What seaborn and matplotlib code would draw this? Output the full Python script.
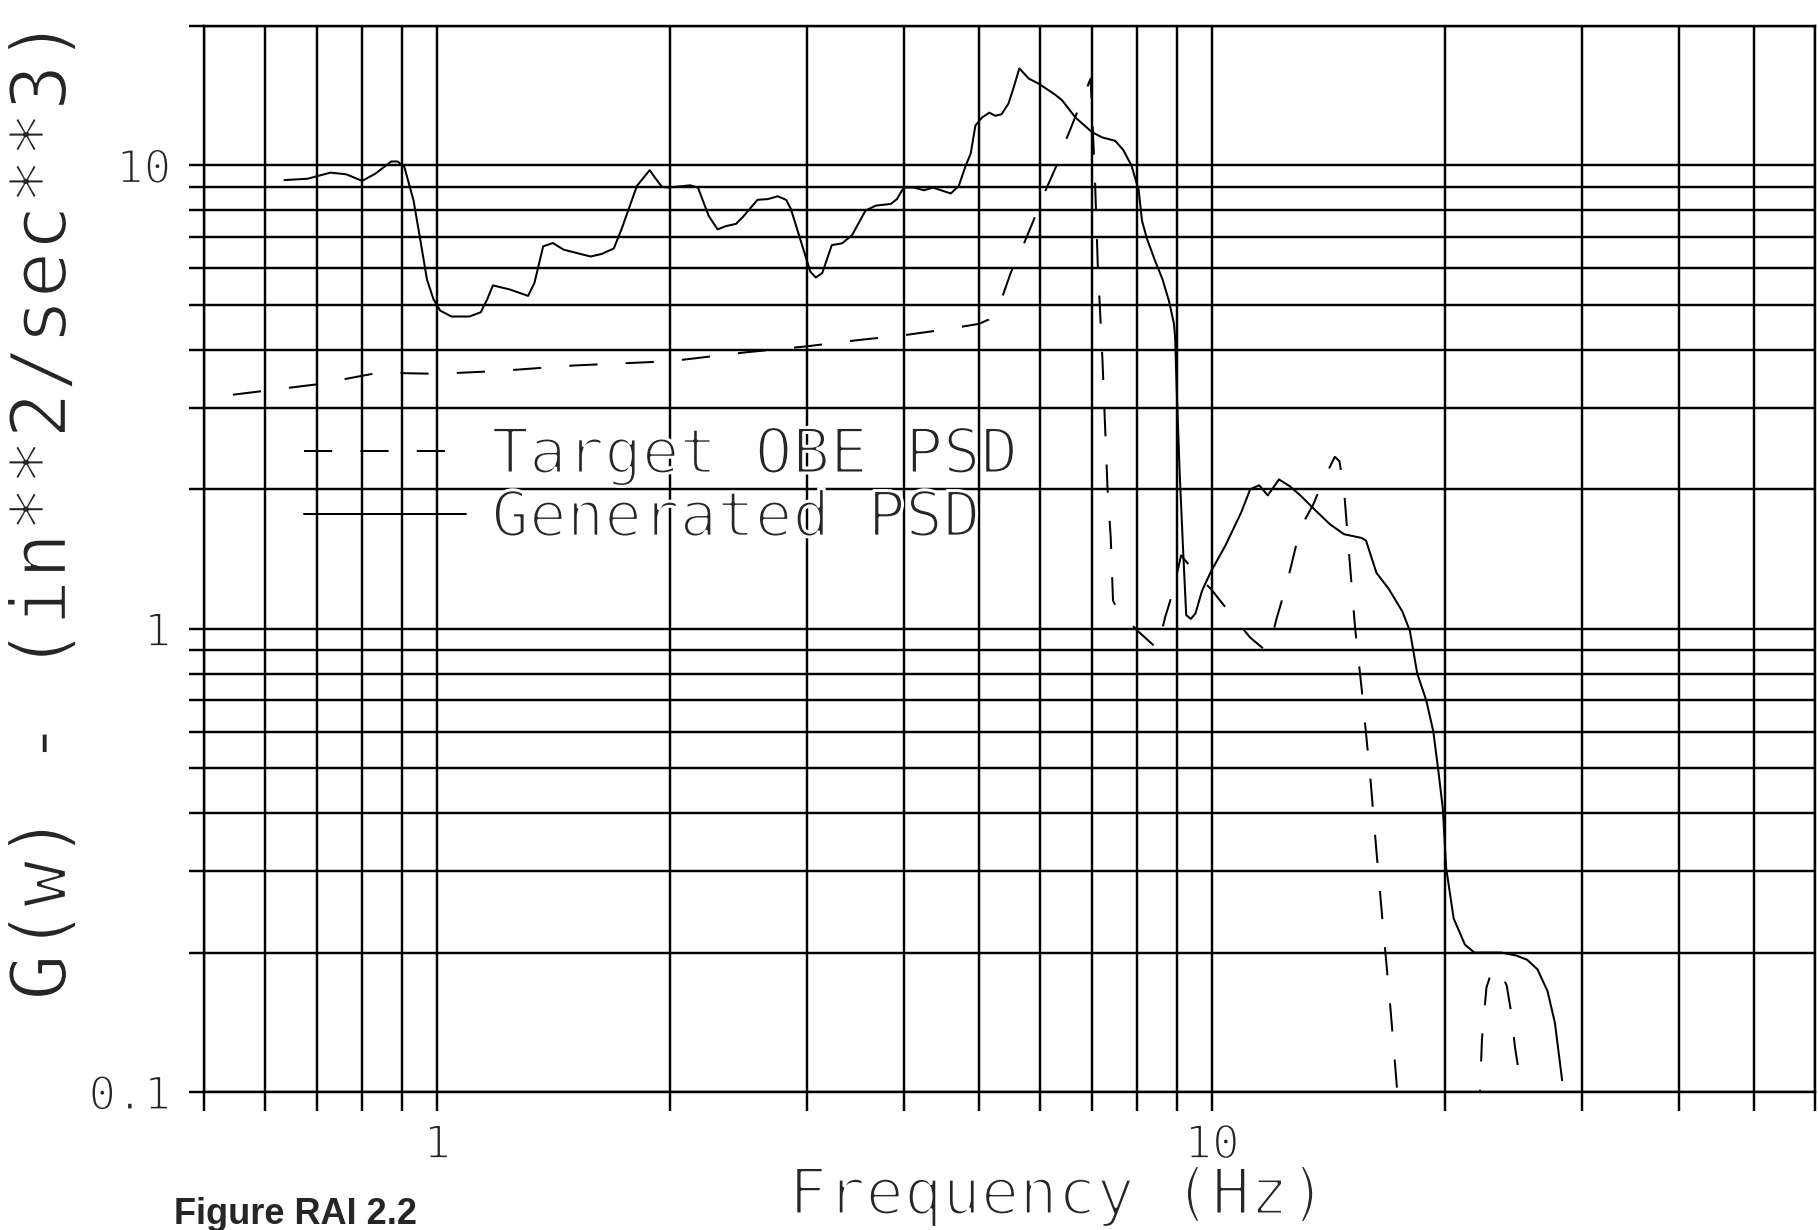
import numpy as np
import pandas as pd
import matplotlib
matplotlib.use("Agg")
import matplotlib.pyplot as plt
import matplotlib.patheffects as pe
from matplotlib.ticker import LogLocator, NullFormatter, FixedLocator, FixedFormatter
import seaborn as sns

# ---------------------------
# Data
# ---------------------------
# Generated PSD (solid line)
gen_freq = [0.635, 0.68, 0.728, 0.763, 0.80, 0.832, 0.872, 0.889, 0.907, 0.932,
            0.951, 0.97, 0.989, 1.009, 1.043, 1.10, 1.138, 1.16, 1.18, 1.24,
            1.31, 1.335, 1.37, 1.41, 1.456, 1.577, 1.63, 1.69, 1.73, 1.81,
            1.88, 1.91, 1.95, 1.99, 2.12, 2.17, 2.24, 2.30, 2.36, 2.43,
            2.48, 2.59, 2.67, 2.75, 2.82, 2.86, 2.93, 3.03, 3.08, 3.14,
            3.23, 3.33, 3.43, 3.57, 3.68, 3.85, 3.92, 4.0, 4.12, 4.25,
            4.36, 4.6, 4.71, 4.81, 4.88, 4.95, 5.05, 5.16, 5.25, 5.35,
            5.46, 5.55, 5.64, 5.80, 5.98, 6.28, 6.41, 6.66, 7.0, 7.21,
            7.5, 7.68, 7.87, 8.04, 8.12, 8.24, 8.45, 8.63, 8.8, 8.93,
            8.96, 9.0, 9.08, 9.17, 9.26, 9.39, 9.52, 9.71, 9.97, 10.4,
            10.9, 11.2, 11.5, 11.8, 12.2, 12.6, 13.0, 13.6, 14.2, 14.8,
            15.6, 15.8, 16.3, 16.9, 17.6, 18.0, 18.4, 18.9, 19.3, 19.6,
            19.85, 20.05, 20.5, 21.2, 21.8, 23.6, 24.7, 25.5, 26.3, 27.1,
            27.7, 28.3]
gen_psd = [9.3, 9.36, 9.65, 9.57, 9.26, 9.6, 10.2, 10.2, 9.92, 8.4,
           6.9, 5.67, 5.14, 4.86, 4.72, 4.72, 4.82, 5.14, 5.51, 5.4,
           5.23, 5.58, 6.69, 6.8, 6.58, 6.36, 6.44, 6.62, 7.3, 9.03,
           9.77, 9.41, 8.99, 8.96, 9.06, 8.96, 7.79, 7.28, 7.4, 7.48,
           7.74, 8.43, 8.46, 8.58, 8.43, 8.06, 7.07, 5.9, 5.73, 5.86,
           6.73, 6.79, 7.07, 7.99, 8.19, 8.26, 8.46, 8.96, 8.96, 8.84,
           8.96, 8.7, 9.03, 10.0, 10.6, 12.2, 12.7, 13.0, 12.8, 12.9,
           13.6, 14.8, 16.2, 15.4, 15.0, 14.2, 13.8, 12.7, 11.8, 11.5,
           11.3, 10.8, 10.0, 8.85, 7.6, 6.95, 6.2, 5.68, 5.09, 4.55,
           4.26, 3.34, 2.19, 1.51, 1.07, 1.05, 1.08, 1.21, 1.33, 1.51,
           1.78, 2.0, 2.04, 1.94, 2.1, 2.03, 1.94, 1.8, 1.68, 1.6,
           1.57, 1.55, 1.32, 1.22, 1.09, 0.99, 0.80, 0.70, 0.60, 0.49,
           0.41, 0.305, 0.237, 0.208, 0.20, 0.20, 0.197, 0.193, 0.184, 0.165,
           0.141, 0.106]

# Target OBE PSD (dashed line)
target_freq = [0.545, 0.70, 0.84, 1.0, 1.2, 1.5, 2.0, 2.5, 3.0, 3.5,
               4.0, 4.5, 5.0, 5.15, 5.25, 5.35, 5.5, 5.7, 5.9, 6.1,
               6.3, 6.5, 6.73, 6.97, 7.06, 7.12, 7.22, 7.33, 7.4, 7.45,
               7.57, 8.04, 8.5, 8.7, 8.9, 9.12, 9.45, 10.0, 10.6, 11.2,
               11.7, 11.85, 12.1, 12.5, 13.0, 13.5, 13.9, 14.4, 14.6, 14.8,
               15.0, 15.3, 15.6, 16.0, 16.3, 16.6, 17.0, 17.3, 17.6, 22.0,
               22.3, 22.6, 22.9, 23.4, 24.0, 24.3, 24.6, 25.0, 25.3]
target_psd = [3.2, 3.37, 3.57, 3.55, 3.6, 3.7, 3.78, 3.95, 4.07, 4.2,
              4.3, 4.42, 4.55, 4.65, 4.8, 5.15, 5.88, 6.7, 7.7, 8.85,
              10.0, 11.5, 13.3, 15.4, 9.4, 6.1, 3.8, 2.0, 1.57, 1.15,
              1.09, 0.985, 0.905, 1.06, 1.2, 1.44, 1.34, 1.21, 1.07, 0.957,
              0.90, 0.91, 1.045, 1.26, 1.65, 1.85, 2.08, 2.35, 2.3, 2.0,
              1.5, 1.0, 0.74, 0.48, 0.33, 0.233, 0.15, 0.105, 0.07, 0.07,
              0.13, 0.168, 0.18, 0.185, 0.17, 0.15, 0.125, 0.105, 0.08]

x_tick_vals = [1, 10]
x_tick_labels = ["1", "10"]
y_tick_vals = [0.1, 1, 10]
y_tick_labels = ["0.1", "1", "10"]

# ---------------------------
# Style
# ---------------------------
sns.set_style("white")
plt.rcParams["font.family"] = ["DejaVu Sans Mono", "DejaVu Sans"]


def thin(size, k=0.048):
    # white outline eats into the glyphs so they look like pen-plotter strokes
    return [pe.Stroke(linewidth=k * size, foreground="white")]


fig = plt.figure(figsize=(18.18, 12.3), dpi=100)
ax = fig.add_axes([204 / 1818, 1 - 1092 / 1230, (1815 - 204) / 1818, (1092 - 26) / 1230])

gen = pd.DataFrame({"freq": gen_freq, "psd": gen_psd})
target = pd.DataFrame({"freq": target_freq, "psd": target_psd})

sns.lineplot(data=target, x="freq", y="psd", ax=ax, color="black", linewidth=1.45,
             linestyle=(0, (14, 14)), sort=False, estimator=None, label="Target OBE PSD")
sns.lineplot(data=gen, x="freq", y="psd", ax=ax, color="black", linewidth=1.45,
             sort=False, estimator=None, label="Generated PSD")

ax.set_xscale("log")
ax.set_yscale("log")
ax.set_xlim(0.5, 60)
ax.set_ylim(0.1, 20)
ax.set_xlabel("")
ax.set_ylabel("")

# ---------------------------
# Grid and ticks
# ---------------------------
ax.xaxis.set_major_locator(FixedLocator(x_tick_vals))
ax.xaxis.set_major_formatter(FixedFormatter(x_tick_labels))
ax.yaxis.set_major_locator(FixedLocator(y_tick_vals))
ax.yaxis.set_major_formatter(FixedFormatter(y_tick_labels))
for axis in (ax.xaxis, ax.yaxis):
    axis.set_minor_locator(LogLocator(base=10, subs=np.arange(2, 10), numticks=20))
    axis.set_minor_formatter(NullFormatter())

ax.grid(True, which="both", color="black", linewidth=1.75)
for s in ax.spines.values():
    s.set_color("black")
    s.set_linewidth(1.75)

ax.tick_params(axis="x", which="both", bottom=True, direction="out", length=13.5,
               width=1.75, color="black", pad=9, labelsize=33)
ax.tick_params(axis="y", which="both", left=True, direction="out", length=10.5,
               width=1.75, color="black", pad=13, labelsize=33)
for lbl in ax.get_xticklabels() + ax.get_yticklabels():
    lbl.set_path_effects(thin(33))

# ---------------------------
# Legend (no frame, gridlines show through)
# ---------------------------
leg = ax.legend(handles=ax.lines[:2], labels=["Target OBE PSD", "Generated PSD"],
                loc="center left", bbox_to_anchor=(0.062, 0.567), frameon=False,
                fontsize=45, handlelength=2.6, handletextpad=0.4,
                labelspacing=0.05, borderpad=0, borderaxespad=0)
for t in leg.get_texts():
    t.set_path_effects(thin(45))

# ---------------------------
# Axis titles
# ---------------------------
fig.text(44 / 1818, 1 - 510 / 1230, "G(w) - (in**2/sec**3)", rotation=90,
         ha="center", va="center", fontsize=56, path_effects=thin(56, 0.03))
fig.text(1058 / 1818, 0.013, "Frequency (Hz)", ha="center", va="baseline",
         fontsize=46, path_effects=thin(46))
fig.text(174 / 1818, 0.005, "Figure RAI 2.2", ha="left", va="baseline",
         fontsize=26, fontweight="bold",
         family=["Liberation Sans Narrow", "Liberation Sans"])

fig.savefig("out.png", dpi=100)
plt.close(fig)
